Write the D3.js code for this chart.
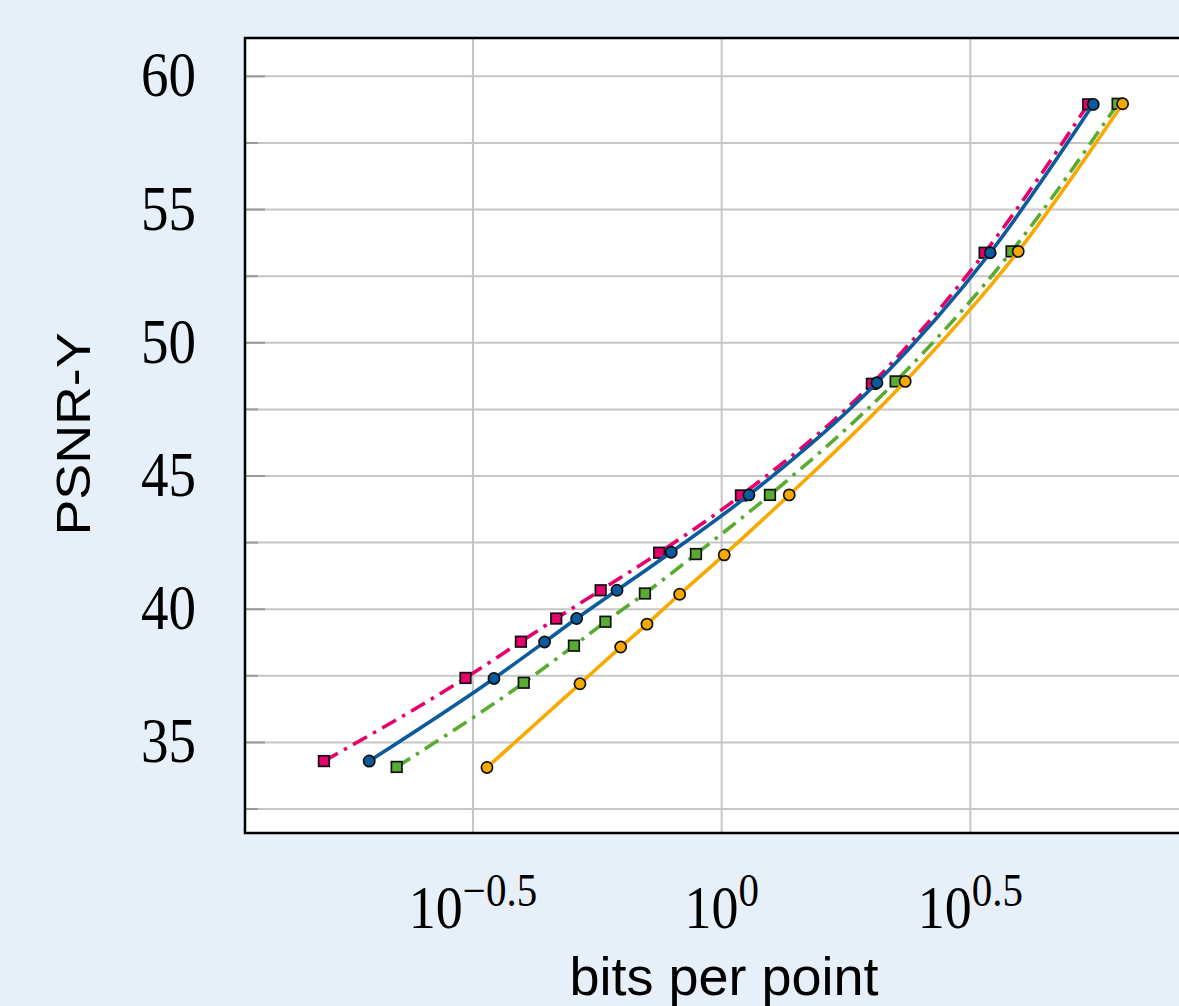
<!DOCTYPE html>
<html>
<head>
<meta charset="utf-8">
<script src="https://cdn.jsdelivr.net/npm/d3@7"></script>
<style>
  html, body { margin: 0; padding: 0; background: #e7eff9; }
  svg { display: block; }
</style>
</head>
<body>
<div id="chart"></div>
<script>
// bits per point (x) and PSNR-Y (y) for each codec curve
const pinkBpp   = [0.1586, 0.3055, 0.3948, 0.4649, 0.5711, 0.7488, 1.0935, 2.005, 3.379, 5.458];
const pinkPsnr  = [34.30, 37.42, 38.78, 39.65, 40.71, 42.12, 44.27, 48.46, 53.38, 58.95];
const blueBpp   = [0.1956, 0.3485, 0.4405, 0.5110, 0.6160, 0.7918, 1.1347, 2.052, 3.467, 5.587];
const bluePsnr  = [34.30, 37.40, 38.77, 39.65, 40.71, 42.14, 44.29, 48.50, 53.38, 58.95];
const greenBpp  = [0.2221, 0.4000, 0.5047, 0.5839, 0.7010, 0.8879, 1.2506, 2.238, 3.828, 6.254];
const greenPsnr = [34.08, 37.24, 38.63, 39.53, 40.59, 42.07, 44.29, 48.55, 53.43, 58.97];
const orangeBpp  = [0.3374, 0.5189, 0.6266, 0.7077, 0.8233, 1.012, 1.3675, 2.339, 3.947, 6.401];
const orangePsnr = [34.06, 37.20, 38.58, 39.44, 40.56, 42.04, 44.29, 48.55, 53.43, 58.97];

const yMajor = [35, 40, 45, 50, 55, 60];
const yMinor = [32.5, 37.5, 42.5, 47.5, 52.5, 57.5];
const xTickExp = ["-0.5", "0", "0.5"];

const width = 1179, height = 1006;
const plotL = 245, plotT = 38, plotB = 833, plotR = 1219;

const x = d3.scaleLog()
  .domain([Math.pow(10, -0.9584), Math.pow(10, 1.0)])
  .range([plotL, plotR]);
const y = d3.scaleLinear()
  .domain([31.6, 61.44])
  .range([plotB, plotT]);

const svg = d3.select("#chart").append("svg")
  .attr("width", width)
  .attr("height", height);

svg.append("rect")
  .attr("width", width).attr("height", height)
  .attr("fill", "#e7eff9");

svg.append("rect")
  .attr("x", plotL).attr("y", plotT)
  .attr("width", plotR - plotL).attr("height", plotB - plotT)
  .attr("fill", "#fff");

// grid
const grid = svg.append("g").attr("stroke", "#c6c6c6").attr("stroke-width", 2);
grid.selectAll("line.yg")
  .data(yMajor.concat(yMinor))
  .join("line")
  .attr("class", "yg")
  .attr("x1", plotL).attr("x2", plotR)
  .attr("y1", d => y(d)).attr("y2", d => y(d));
grid.selectAll("line.xg")
  .data(xTickExp)
  .join("line")
  .attr("class", "xg")
  .attr("x1", d => x(Math.pow(10, +d))).attr("x2", d => x(Math.pow(10, +d)))
  .attr("y1", plotT).attr("y2", plotB);

// small tick marks on the left edge
const ticks = svg.append("g").attr("stroke", "#9a9a9a").attr("stroke-width", 2);
ticks.selectAll("line.maj")
  .data(yMajor)
  .join("line")
  .attr("class", "maj")
  .attr("x1", plotL).attr("x2", plotL + 20)
  .attr("y1", d => y(d)).attr("y2", d => y(d));
ticks.selectAll("line.min")
  .data(yMinor)
  .join("line")
  .attr("class", "min")
  .attr("x1", plotL).attr("x2", plotL + 13)
  .attr("y1", d => y(d)).attr("y2", d => y(d));

// series
const series = [
  { bpp: pinkBpp, psnr: pinkPsnr, color: "#e5006c", dash: "16 7 3.5 7", mark: "square" },
  { bpp: blueBpp, psnr: bluePsnr, color: "#0a5a9e", dash: null, mark: "circle" },
  { bpp: greenBpp, psnr: greenPsnr, color: "#5aab32", dash: "16 7 3.5 7", mark: "square" },
  { bpp: orangeBpp, psnr: orangePsnr, color: "#f8a900", dash: null, mark: "circle" }
];

const line = d3.line()
  .x(d => x(d[0]))
  .y(d => y(d[1]))
  .curve(d3.curveMonotoneX);

series.forEach(s => {
  const pts = s.bpp.map((b, i) => [b, s.psnr[i]]);
  const g = svg.append("g");
  g.append("path")
    .datum(pts)
    .attr("fill", "none")
    .attr("stroke", s.color)
    .attr("stroke-width", 3.6)
    .attr("stroke-dasharray", s.dash)
    .attr("d", line);
  if (s.mark === "circle") {
    g.selectAll("circle")
      .data(pts)
      .join("circle")
      .attr("cx", d => x(d[0]))
      .attr("cy", d => y(d[1]))
      .attr("r", 5.6)
      .attr("fill", s.color)
      .attr("stroke", "#111")
      .attr("stroke-width", 1.7);
  } else {
    g.selectAll("rect")
      .data(pts)
      .join("rect")
      .attr("x", d => x(d[0]) - 5.3)
      .attr("y", d => y(d[1]) - 5.3)
      .attr("width", 10.6)
      .attr("height", 10.6)
      .attr("fill", s.color)
      .attr("stroke", "#111")
      .attr("stroke-width", 1.7);
  }
});

// frame
svg.append("rect")
  .attr("x", plotL).attr("y", plotT)
  .attr("width", plotR - plotL).attr("height", plotB - plotT)
  .attr("fill", "none")
  .attr("stroke", "#000")
  .attr("stroke-width", 2.5);

// y tick labels
svg.append("g")
  .selectAll("text")
  .data(yMajor)
  .join("text")
  .attr("transform", d => `translate(196,${y(d) + 20}) scale(1,1.14)`)
  .attr("text-anchor", "end")
  .style("font", "55px 'Liberation Serif', serif")
  .text(d => d);

// x tick labels: 10^exp
const xl = svg.append("g")
  .selectAll("text")
  .data(xTickExp)
  .join("text")
  .attr("transform", d => `translate(${x(Math.pow(10, +d))},928) scale(1,1.12)`)
  .attr("text-anchor", "middle")
  .style("font", "54px 'Liberation Serif', serif");
xl.append("tspan").text("10");
xl.append("tspan")
  .attr("dy", -20)
  .style("font-size", "41px")
  .text(d => d.replace("-", "\u2212"));

// axis titles
svg.append("text")
  .attr("x", 724).attr("y", 995)
  .attr("text-anchor", "middle")
  .style("font", "54px 'Liberation Sans', Arial, sans-serif")
  .text("bits per point");

svg.append("text")
  .attr("transform", "translate(90,434) rotate(-90) scale(1.12,1)")
  .attr("text-anchor", "middle")
  .style("font", "48px 'Liberation Sans', Arial, sans-serif")
  .text("PSNR-Y");
</script>
</body>
</html>
